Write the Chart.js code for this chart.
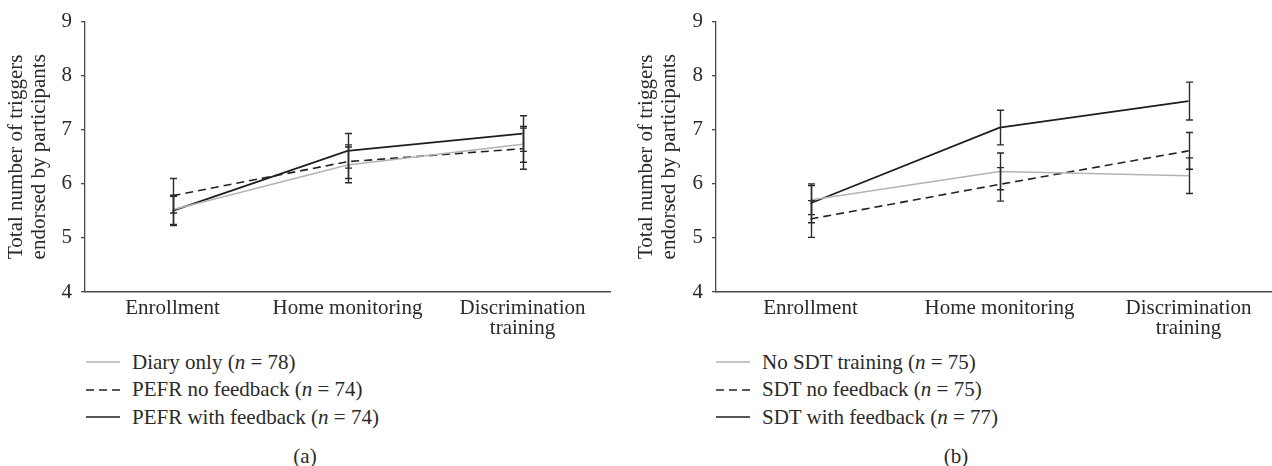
<!DOCTYPE html>
<html>
<head>
<meta charset="utf-8">
<script src="https://cdn.jsdelivr.net/npm/chart.js@4.4.1/dist/chart.umd.min.js"></script>
<style>
  html, body { margin: 0; padding: 0; background: #fff; overflow: hidden; }
  #wrap { position: relative; width: 1272px; height: 466px; overflow: hidden;
          font-family: "Liberation Serif", "DejaVu Serif", serif; color: #2a2a2a; }
  canvas { position: absolute; top: 0; }
  .legend { position: absolute; font-size: 21px; }
  .legend .row { position: absolute; left: 0; height: 28px; display: flex; align-items: center; white-space: nowrap; }
  .legend svg { margin-right: 12px; }
  .caption { position: absolute; font-size: 21px; transform: translate(-50%, -50%); }
</style>
</head>
<body>
<div id="wrap">
  <canvas id="chartA" width="612" height="340" style="left:0px"></canvas>
  <canvas id="chartB" width="655" height="340" style="left:630px"></canvas>
  <div class="legend" id="legendA" style="left:86px;top:348px"></div>
  <div class="legend" id="legendB" style="left:716px;top:348px"></div>
  <div class="caption" style="left:305px;top:456px">(a)</div>
  <div class="caption" style="left:956px;top:456px">(b)</div>
</div>
<script>
// Study phases along the x axis
const categories = ['Enrollment', 'Home monitoring', ['Discrimination', 'training']];
const yTicks = [4, 5, 6, 7, 8, 9];
const yTitle = ['Total number of triggers', 'endorsed by participants'];

// Panel (a): mean triggers endorsed and error-bar half-widths
const seriesNamesA = ['Diary only', 'PEFR no feedback', 'PEFR with feedback'];
const groupSizesA = [78, 74, 74];
const diaryOnly = [5.52, 6.35, 6.73];
const diaryOnlyErr = [0.27, 0.33, 0.33];
const pefrNoFeedback = [5.78, 6.41, 6.65];
const pefrNoFeedbackErr = [0.32, 0.31, 0.38];
const pefrWithFeedback = [5.50, 6.61, 6.93];
const pefrWithFeedbackErr = [0.27, 0.32, 0.33];

// Panel (b)
const seriesNamesB = ['No SDT training', 'SDT no feedback', 'SDT with feedback'];
const groupSizesB = [75, 75, 77];
const noSdt = [5.70, 6.23, 6.15];
const noSdtErr = [0.27, 0.34, 0.33];
const sdtNoFeedback = [5.35, 5.99, 6.61];
const sdtNoFeedbackErr = [0.34, 0.31, 0.34];
const sdtWithFeedback = [5.64, 7.04, 7.53];
const sdtWithFeedbackErr = [0.36, 0.32, 0.35];

// Line styles shared by both panels: grey solid, black dashed, black solid
const lineStyles = [
  { color: '#b3b3b3', width: 1.5, dash: [] },
  { color: '#222222', width: 1.6, dash: [8, 5] },
  { color: '#1e1e1e', width: 1.7, dash: [] }
];

const FONT = '"Liberation Serif", "DejaVu Serif", serif';
const TEXT = '#2a2a2a';
const AXIS = '#4a4a4a';

// Draws vertical error bars with caps from each dataset's `errors` array
const errorBars = {
  id: 'errorBars',
  afterDatasetsDraw(chart) {
    const { ctx } = chart;
    const y = chart.scales.y;
    ctx.save();
    ctx.strokeStyle = '#2b2b2b';
    ctx.lineWidth = 1.4;
    ctx.setLineDash([]);
    chart.data.datasets.forEach((ds, i) => {
      const meta = chart.getDatasetMeta(i);
      ds.data.forEach((v, j) => {
        const e = ds.errors[j];
        const px = Math.round(meta.data[j].x) + 0.5;
        const top = y.getPixelForValue(v + e);
        const bot = y.getPixelForValue(v - e);
        ctx.beginPath();
        ctx.moveTo(px, top); ctx.lineTo(px, bot);
        ctx.moveTo(px - 3.5, top); ctx.lineTo(px + 3.5, top);
        ctx.moveTo(px - 3.5, bot); ctx.lineTo(px + 3.5, bot);
        ctx.stroke();
      });
    });
    ctx.restore();
  }
};

function makeDatasets(names, sizes, values, errors) {
  return names.map((name, i) => ({
    label: name + ' (n = ' + sizes[i] + ')',
    data: values[i],
    errors: errors[i],
    borderColor: lineStyles[i].color,
    borderWidth: lineStyles[i].width,
    borderDash: lineStyles[i].dash,
    pointRadius: 0,
    tension: 0,
    fill: false
  }));
}

function makeChart(id, datasets, yWidth) {
  return new Chart(document.getElementById(id), {
    type: 'line',
    data: { labels: categories, datasets: datasets },
    plugins: [errorBars],
    options: {
      responsive: false,
      animation: false,
      layout: { padding: { top: 17, right: 2, left: 0, bottom: 0 } },
      plugins: { legend: { display: false }, tooltip: { enabled: false } },
      scales: {
        x: {
          type: 'category',
          offset: true,
          grid: { display: false, drawTicks: false },
          border: { display: true, color: AXIS, width: 1.5 },
          ticks: {
            color: TEXT, padding: 7, maxRotation: 0, autoSkip: false,
            font: { family: FONT, size: 21, lineHeight: 0.95 }
          },
          afterFit(scale) { scale.height = 48; }
        },
        y: {
          min: yTicks[0],
          max: yTicks[yTicks.length - 1],
          afterBuildTicks(scale) { scale.ticks = yTicks.map(v => ({ value: v })); },
          grid: { display: true, drawOnChartArea: false, drawTicks: true, tickLength: 4, color: AXIS, lineWidth: 1.3 },
          border: { display: true, color: AXIS, width: 1.3 },
          ticks: { color: TEXT, padding: 9, font: { family: FONT, size: 21 } },
          title: {
            display: true, text: yTitle, color: TEXT,
            padding: { top: 4.5, bottom: 0 },
            font: { family: FONT, size: 21, lineHeight: 1.1 }
          },
          afterFit(scale) { scale.width = yWidth; }
        }
      }
    }
  });
}

function buildLegend(elId, names, sizes) {
  const el = document.getElementById(elId);
  names.forEach((name, i) => {
    const s = lineStyles[i];
    const row = document.createElement('div');
    row.className = 'row';
    row.style.top = (i * 27.5) + 'px';
    row.innerHTML =
      '<svg width="34" height="4"><line x1="0" y1="2" x2="34" y2="2" stroke="' + s.color +
      '" stroke-width="' + s.width + '" stroke-dasharray="' + (s.dash.length ? s.dash.join(',') : 'none') +
      '"/></svg><span>' + name + ' (<i>n</i> = ' + sizes[i] + ')</span>';
    el.appendChild(row);
  });
}

makeChart('chartA', makeDatasets(seriesNamesA, groupSizesA,
  [diaryOnly, pefrNoFeedback, pefrWithFeedback],
  [diaryOnlyErr, pefrNoFeedbackErr, pefrWithFeedbackErr]), 85);

makeChart('chartB', makeDatasets(seriesNamesB, groupSizesB,
  [noSdt, sdtNoFeedback, sdtWithFeedback],
  [noSdtErr, sdtNoFeedbackErr, sdtWithFeedbackErr]), 86);

buildLegend('legendA', seriesNamesA, groupSizesA);
buildLegend('legendB', seriesNamesB, groupSizesB);
</script>
</body>
</html>
